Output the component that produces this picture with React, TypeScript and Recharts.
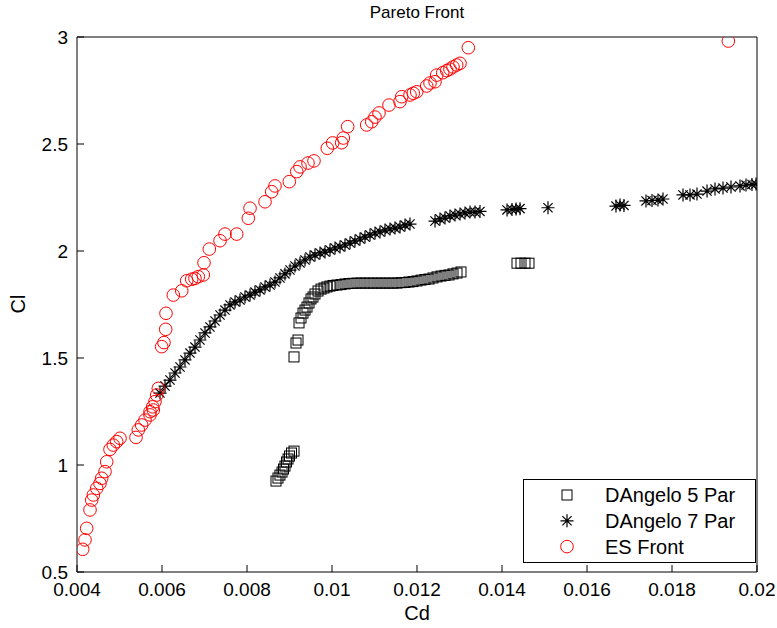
import { ScatterChart, Scatter, XAxis, YAxis } from "recharts";

const FONT = "'Liberation Sans', Arial, Helvetica, sans-serif";

const xTicks = [0.004, 0.006, 0.008, 0.01, 0.012, 0.014, 0.016, 0.018, 0.02];
const yTicks = [0.5, 1, 1.5, 2, 2.5, 3];

// DAngelo 5 Par (squares)
const d5Cd = [
  0.008682, 0.008729, 0.008776, 0.008824, 0.008859, 0.008894, 0.008929, 0.008965, 0.009, 0.009047, 0.009106,
  0.009106, 0.009153, 0.0092, 0.009224, 0.009271, 0.009318, 0.009365, 0.009412, 0.009459, 0.009506, 0.009553,
  0.0096, 0.009671, 0.009741, 0.009812, 0.009882, 0.009953,
  0.010024, 0.010118, 0.010212, 0.010306, 0.0104, 0.010494, 0.010588, 0.010682, 0.010776, 0.010871, 0.010965,
  0.011059, 0.011153, 0.011247, 0.011341, 0.011435, 0.011529, 0.011624, 0.011718, 0.011812, 0.011906, 0.012,
  0.012094, 0.012188, 0.012282, 0.012376, 0.012471, 0.012565, 0.012659, 0.012753, 0.012847, 0.012941, 0.013035,
  0.014353, 0.014447, 0.014541, 0.014635,
];
const d5Cl = [
  0.925, 0.939, 0.953, 0.967, 0.981, 0.995, 1.014, 1.028, 1.042, 1.056, 1.065,
  1.505, 1.57, 1.584, 1.664, 1.687, 1.71, 1.724, 1.738, 1.757, 1.776, 1.785,
  1.799, 1.813, 1.822, 1.827, 1.832, 1.836,
  1.839, 1.841, 1.843, 1.846, 1.848, 1.849, 1.85, 1.85, 1.85, 1.85, 1.85,
  1.85, 1.85, 1.85, 1.85, 1.85, 1.85, 1.852, 1.853, 1.855, 1.857, 1.86,
  1.864, 1.867, 1.869, 1.874, 1.879, 1.883, 1.886, 1.888, 1.893, 1.897, 1.902,
  1.943, 1.943, 1.943, 1.943,
];

// DAngelo 7 Par (asterisks)
const d7Cd = [
  0.005953, 0.006071, 0.006188, 0.006306, 0.006424, 0.006541, 0.006659, 0.006776, 0.006894, 0.007012,
  0.007129, 0.007247, 0.007365, 0.007482, 0.0076, 0.007718, 0.007835, 0.007953, 0.008071, 0.008188,
  0.008306, 0.008424, 0.008541, 0.008659, 0.008776, 0.008894, 0.009012, 0.009129, 0.009247, 0.009365,
  0.009482, 0.0096, 0.009718, 0.009835, 0.009953, 0.010071, 0.010188, 0.010306, 0.010424, 0.010541,
  0.010659, 0.010776, 0.010894, 0.011012, 0.011129, 0.011247, 0.011365, 0.011482, 0.0116, 0.011718,
  0.011835, 0.012424, 0.012541, 0.012659, 0.012776, 0.012894, 0.013012, 0.013129, 0.013247, 0.013365,
  0.013482, 0.014118, 0.014235, 0.01433, 0.014424, 0.015082, 0.016682, 0.016776, 0.01687, 0.017388,
  0.017529, 0.01767, 0.017788, 0.018259, 0.018424, 0.018588, 0.018824, 0.019012, 0.0192, 0.019388,
  0.0196, 0.019741, 0.019882, 0.019976,
];
const d7Cl = [
  1.336, 1.369, 1.397, 1.43, 1.458, 1.491, 1.523, 1.551, 1.584, 1.617,
  1.645, 1.673, 1.701, 1.724, 1.748, 1.762, 1.771, 1.785, 1.794, 1.808,
  1.818, 1.832, 1.841, 1.855, 1.874, 1.893, 1.911, 1.93, 1.944, 1.958,
  1.972, 1.981, 1.991, 1.995, 2.005, 2.014, 2.019, 2.028, 2.037, 2.047,
  2.056, 2.065, 2.075, 2.084, 2.089, 2.098, 2.103, 2.107, 2.112, 2.121,
  2.126, 2.14, 2.15, 2.154, 2.164, 2.168, 2.173, 2.178, 2.182, 2.182,
  2.185, 2.192, 2.194, 2.196, 2.198, 2.202, 2.21, 2.215, 2.213, 2.234,
  2.236, 2.238, 2.243, 2.262, 2.262, 2.266, 2.28, 2.29, 2.294, 2.299,
  2.304, 2.308, 2.311, 2.313,
];

// ES Front (red circles)
const esCd = [
  0.004134, 0.004188, 0.004228, 0.004306, 0.004346, 0.004384, 0.004464, 0.004541, 0.004581, 0.004659,
  0.004699, 0.004776, 0.004854, 0.004934, 0.005012, 0.005388, 0.005442, 0.005522, 0.0056, 0.005718,
  0.005718, 0.005795, 0.005781, 0.005835, 0.005875, 0.005913, 0.005993, 0.006047, 0.006087, 0.006094,
  0.006266, 0.006464, 0.006581, 0.006699, 0.006776, 0.006854, 0.006972, 0.006988, 0.007113, 0.007365,
  0.007482, 0.007758, 0.008031, 0.008071, 0.008424, 0.008581, 0.008659, 0.008995, 0.00917, 0.009247,
  0.009435, 0.009576, 0.009889, 0.010016, 0.010228, 0.010266, 0.010369, 0.010816, 0.010934, 0.011012,
  0.011106, 0.011341, 0.0116, 0.01164, 0.011835, 0.011913, 0.011993, 0.012228, 0.012306, 0.012424,
  0.012464, 0.012605, 0.012699, 0.012776, 0.012847, 0.012934, 0.013012, 0.013207, 0.019325,
];
const esCl = [
  0.606, 0.65, 0.704, 0.79, 0.836, 0.86, 0.891, 0.914, 0.938, 0.969,
  1.015, 1.073, 1.093, 1.109, 1.125, 1.129, 1.164, 1.187, 1.21, 1.234,
  1.249, 1.257, 1.272, 1.296, 1.327, 1.358, 1.553, 1.572, 1.634, 1.709,
  1.794, 1.814, 1.861, 1.868, 1.872, 1.88, 1.888, 1.945, 2.009, 2.048,
  2.079, 2.079, 2.153, 2.2, 2.23, 2.277, 2.304, 2.324, 2.371, 2.393,
  2.411, 2.421, 2.48, 2.505, 2.506, 2.528, 2.581, 2.589, 2.604, 2.626,
  2.645, 2.682, 2.698, 2.721, 2.729, 2.737, 2.744, 2.771, 2.785, 2.791,
  2.822, 2.833, 2.843, 2.85, 2.86, 2.869, 2.877, 2.95, 2.981,
];

const zip = (cd: number[], cl: number[]) => cd.map((x, i) => ({ cd: x, cl: cl[i] }));

const d5Data = zip(d5Cd, d5Cl);
const d7Data = zip(d7Cd, d7Cl);
const esData = zip(esCd, esCl);

const SquareMark = ({ cx, cy }: any) => (
  <rect x={cx - 5} y={cy - 5} width={10} height={10} fill="none" stroke="#000" strokeWidth={1} />
);

const StarMark = ({ cx, cy }: any) => {
  const r = 6.5;
  const d = 4.6;
  return (
    <path
      d={`M${cx - r},${cy}H${cx + r}M${cx},${cy - r}V${cy + r}M${cx - d},${cy - d}L${cx + d},${cy + d}M${cx - d},${cy + d}L${cx + d},${cy - d}`}
      stroke="#000"
      strokeWidth={1.2}
      fill="none"
    />
  );
};

const CircleMark = ({ cx, cy }: any) => (
  <circle cx={cx} cy={cy} r={6.3} fill="none" stroke="#ff0000" strokeWidth={1} />
);

const Nothing = () => <g />;

const axisStroke = { stroke: "#000", strokeWidth: 1 };
const tickStyle = { fill: "#000", fontSize: 19, fontFamily: FONT };

function LegendBox() {
  const rows = [
    { label: "DAngelo 5 Par", Mark: SquareMark },
    { label: "DAngelo 7 Par", Mark: StarMark },
    { label: "ES Front", Mark: CircleMark },
  ];
  return (
    <svg
      width={233}
      height={84}
      style={{ position: "absolute", left: 523, top: 479 }}
    >
      <rect x={0.5} y={0.5} width={232} height={83} fill="#fff" stroke="#000" strokeWidth={1} />
      {rows.map((r, i) => (
        <g key={r.label}>
          <r.Mark cx={44} cy={16 + i * 25.8} />
          <text x={82} y={16 + i * 25.8} dy="0.36em" fontSize={20} fontFamily={FONT} fill="#000">
            {r.label}
          </text>
        </g>
      ))}
    </svg>
  );
}

export default function App() {
  return (
    <div style={{ position: "relative", width: 777, height: 628, background: "#fff" }}>
      <style>{"body{margin:0}"}</style>
      <ScatterChart width={777} height={628} margin={{ top: 0, right: 0, bottom: 0, left: 0 }}>
        <XAxis
          xAxisId="b"
          type="number"
          dataKey="cd"
          domain={[0.004, 0.02]}
          allowDataOverflow
          ticks={xTicks}
          interval={0}
          height={56}
          axisLine={axisStroke}
          tickLine={axisStroke}
          tickSize={-7}
          tickMargin={18}
          tick={tickStyle}
        />
        <XAxis
          xAxisId="t"
          orientation="top"
          type="number"
          dataKey="cd"
          domain={[0.004, 0.02]}
          allowDataOverflow
          ticks={xTicks}
          interval={0}
          height={37}
          axisLine={axisStroke}
          tickLine={axisStroke}
          tickSize={-7}
          tick={false}
        />
        <YAxis
          yAxisId="l"
          type="number"
          dataKey="cl"
          domain={[0.5, 3]}
          allowDataOverflow
          ticks={yTicks}
          interval={0}
          width={77}
          axisLine={axisStroke}
          tickLine={axisStroke}
          tickSize={-7}
          tickMargin={16}
          tick={tickStyle}
        />
        <YAxis
          yAxisId="r"
          orientation="right"
          type="number"
          dataKey="cl"
          domain={[0.5, 3]}
          allowDataOverflow
          ticks={yTicks}
          interval={0}
          width={20}
          axisLine={axisStroke}
          tickLine={axisStroke}
          tickSize={-7}
          tick={false}
        />
        <Scatter
          name="frame"
          data={esData}
          xAxisId="t"
          yAxisId="r"
          shape={Nothing}
          legendType="none"
          isAnimationActive={false}
        />
        <Scatter
          name="DAngelo 5 Par"
          data={d5Data}
          xAxisId="b"
          yAxisId="l"
          shape={SquareMark}
          isAnimationActive={false}
        />
        <Scatter
          name="DAngelo 7 Par"
          data={d7Data}
          xAxisId="b"
          yAxisId="l"
          shape={StarMark}
          isAnimationActive={false}
        />
        <Scatter
          name="ES Front"
          data={esData}
          xAxisId="b"
          yAxisId="l"
          shape={CircleMark}
          isAnimationActive={false}
        />
      </ScatterChart>
      <div
        style={{
          position: "absolute",
          left: 77,
          width: 680,
          top: 4,
          lineHeight: "18px",
          textAlign: "center",
          fontFamily: FONT,
          fontSize: 17,
        }}
      >
        Pareto Front
      </div>
      <div
        style={{
          position: "absolute",
          left: 77,
          width: 680,
          top: 603,
          lineHeight: "20px",
          textAlign: "center",
          fontFamily: FONT,
          fontSize: 20,
        }}
      >
        Cd
      </div>
      <div
        style={{
          position: "absolute",
          left: 18,
          top: 304,
          lineHeight: "20px",
          transform: "translate(-50%, -50%) rotate(-90deg)",
          fontFamily: FONT,
          fontSize: 20,
        }}
      >
        Cl
      </div>
      <LegendBox />
    </div>
  );
}
